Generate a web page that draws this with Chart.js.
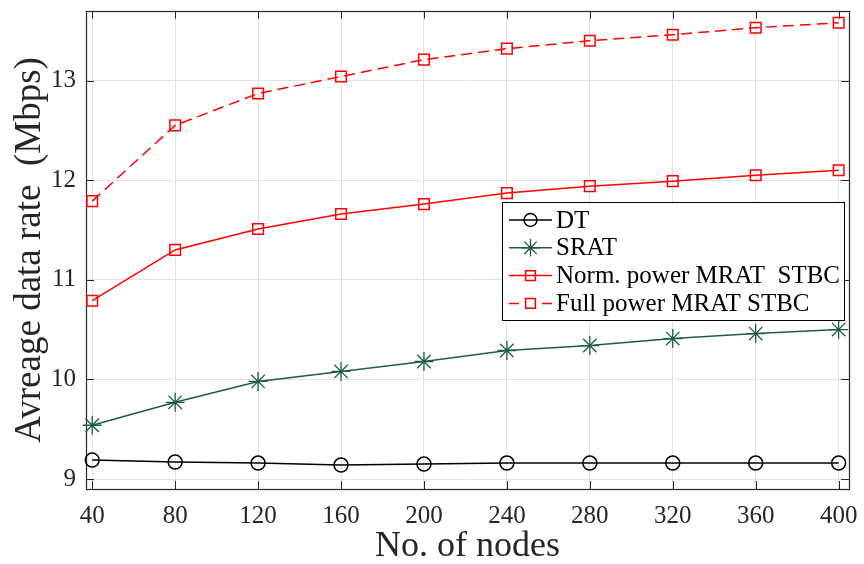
<!DOCTYPE html>
<html>
<head>
<meta charset="utf-8">
<script src="https://cdn.jsdelivr.net/npm/chart.js@4/dist/chart.umd.min.js"></script>
<style>
  html, body { margin: 0; padding: 0; background: #fff; }
  #wrap { width: 864px; height: 564px; }
</style>
</head>
<body>
<div id="wrap"><canvas id="c" width="864" height="564"></canvas></div>
<script>
// Number of nodes in the network
const nodes = [40, 80, 120, 160, 200, 240, 280, 320, 360, 400];
// Average data rate (Mbps) per scheme
const dtRate       = [9.19, 9.17, 9.16, 9.14, 9.15, 9.16, 9.16, 9.16, 9.16, 9.16];
const sratRate     = [9.54, 9.77, 9.98, 10.08, 10.18, 10.29, 10.34, 10.41, 10.46, 10.50];
const normMratRate = [10.79, 11.30, 11.51, 11.66, 11.76, 11.87, 11.94, 11.99, 12.05, 12.10];
const fullMratRate = [11.79, 12.55, 12.87, 13.04, 13.21, 13.32, 13.40, 13.46, 13.53, 13.58];
const yTicks = [9, 10, 11, 12, 13];
const seriesNames = ['DT', 'SRAT', 'Norm. power MRAT  STBC', 'Full power MRAT STBC'];

const SERIF = "'Liberation Serif', 'Times New Roman', serif";
const AXIS_COLOR = '#262626';
const GREEN = '#1e5e3e';
const RED = '#ff0000';

// Inner tick marks on all four sides plus the axes box, MATLAB style
const axesBox = {
  id: 'axesBox',
  beforeDatasetsDraw(chart) {
    const { ctx, chartArea: a, scales: { x, y } } = chart;
    const len = 8;
    ctx.save();
    ctx.strokeStyle = AXIS_COLOR;
    ctx.lineWidth = 1;
    ctx.beginPath();
    x.ticks.forEach(t => {
      const px = Math.round(x.getPixelForValue(t.value)) + 0.5;
      ctx.moveTo(px, a.bottom); ctx.lineTo(px, a.bottom - len);
      ctx.moveTo(px, a.top); ctx.lineTo(px, a.top + len);
    });
    y.ticks.forEach(t => {
      const py = Math.round(y.getPixelForValue(t.value)) + 0.5;
      ctx.moveTo(a.left, py); ctx.lineTo(a.left + len, py);
      ctx.moveTo(a.right, py); ctx.lineTo(a.right - len, py);
    });
    ctx.stroke();
    ctx.lineWidth = 1.2;
    ctx.strokeRect(Math.round(a.left) + 0.5, Math.round(a.top) + 0.5,
                   Math.round(a.right - a.left), Math.round(a.bottom - a.top));
    ctx.restore();
  }
};

// Legend box drawn inside the plot area
const innerLegend = {
  id: 'innerLegend',
  afterDatasetsDraw(chart) {
    const { ctx } = chart;
    const bx = 502, by = 202, bw = 342, bh = 118;
    ctx.save();
    ctx.fillStyle = '#fff';
    ctx.fillRect(bx, by, bw, bh);
    ctx.strokeStyle = '#000';
    ctx.lineWidth = 1;
    ctx.strokeRect(bx + 0.5, by + 0.5, bw, bh);
    chart.data.datasets.forEach((ds, i) => {
      const cy = 220 + i * 27.8;
      const x0 = 509, x1 = 552, mx = (x0 + x1) / 2;
      ctx.strokeStyle = ds.borderColor;
      ctx.lineWidth = ds.borderWidth;
      ctx.setLineDash([]);
      ctx.beginPath();
      if (ds.borderDash && ds.borderDash.length) {
        ctx.moveTo(x0, cy); ctx.lineTo(x0 + 10, cy);
        ctx.moveTo(x1 - 10, cy); ctx.lineTo(x1, cy);
      } else {
        ctx.moveTo(x0, cy); ctx.lineTo(x1, cy);
      }
      ctx.stroke();
      ctx.fillStyle = 'rgba(0,0,0,0)';
      ctx.strokeStyle = ds.borderColor;
      ctx.lineWidth = ds.pointBorderWidth;
      Chart.helpers.drawPoint(ctx, {
        pointStyle: ds.pointStyle,
        radius: ds.pointRadius * 0.92,
        rotation: 0,
        borderWidth: ds.pointBorderWidth
      }, mx, cy);
      ctx.fillStyle = '#000';
      ctx.font = '25px ' + SERIF;
      ctx.textBaseline = 'middle';
      ctx.textAlign = 'left';
      ctx.fillText(ds.label, 556, cy + 1);
    });
    ctx.restore();
  }
};

function series(label, data, color, style, radius, dash, markerWidth) {
  return {
    label, data: nodes.map((n, i) => ({ x: n, y: data[i] })),
    borderColor: color, borderWidth: 1.5, borderDash: dash || [],
    pointStyle: style, pointRadius: radius, pointBorderWidth: markerWidth || 1.5,
    pointBorderColor: color, pointBackgroundColor: 'rgba(0,0,0,0)',
    fill: false, tension: 0, clip: false
  };
}

new Chart(document.getElementById('c'), {
  type: 'line',
  data: {
    datasets: [
      series(seriesNames[0], dtRate, '#000000', 'circle', 7),
      series(seriesNames[1], sratRate, GREEN, 'star', 9.5, null, 1.3),
      series(seriesNames[2], normMratRate, RED, 'rect', 7.5),
      series(seriesNames[3], fullMratRate, RED, 'rect', 7.5, [11, 6])
    ]
  },
  options: {
    responsive: false,
    animation: false,
    devicePixelRatio: 1,
    layout: { padding: { left: 0, top: 9, right: 15, bottom: 0 } },
    plugins: { legend: { display: false }, tooltip: { enabled: false } },
    scales: {
      x: {
        type: 'linear', min: 37, max: 405,
        afterBuildTicks: s => { s.ticks = nodes.map(v => ({ value: v })); },
        afterFit: s => { s.height = 75; s.paddingLeft = 0; s.paddingRight = 0; },
        grid: { color: '#e3e3e3', drawTicks: false },
        border: { display: false },
        ticks: { color: AXIS_COLOR, padding: 12, font: { family: SERIF, size: 25 }, maxRotation: 0, autoSkip: false },
        title: { display: true, text: 'No. of nodes', color: AXIS_COLOR, font: { family: SERIF, size: 36 }, padding: { top: 0, bottom: -4 } }
      },
      y: {
        type: 'linear', min: 8.9, max: 13.7,
        afterBuildTicks: s => { s.ticks = yTicks.map(v => ({ value: v })); },
        afterFit: s => { s.width = 86; s.paddingTop = 0; s.paddingBottom = 0; },
        grid: { color: '#e3e3e3', drawTicks: false },
        border: { display: false },
        ticks: { color: AXIS_COLOR, padding: 10, font: { family: SERIF, size: 25 } },
        title: { display: true, text: 'Avreage data rate  (Mbps)', color: AXIS_COLOR, font: { family: SERIF, size: 37 }, padding: { top: 8, bottom: 0 } }
      }
    }
  },
  plugins: [axesBox, innerLegend]
});
</script>
</body>
</html>
